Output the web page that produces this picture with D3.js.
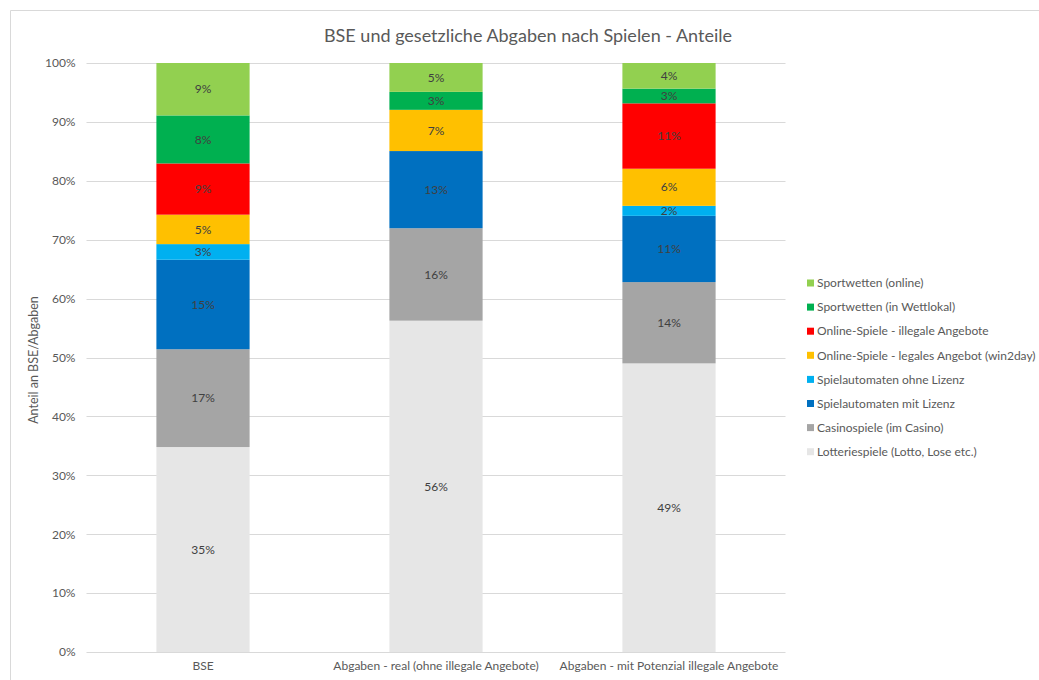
<!DOCTYPE html>
<html><head><meta charset="utf-8">
<script src="https://cdn.jsdelivr.net/npm/d3@7"></script>
<style>body{margin:0;background:#fff;} svg{display:block;font-family:Lato, "Open Sans", sans-serif;}</style>
</head><body>
<svg id="c" width="1039" height="680"></svg>
<script>
const categories = ["BSE", "Abgaben - real (ohne illegale Angebote)", "Abgaben - mit Potenzial illegale Angebote"];
const seriesNames = ["Lotteriespiele (Lotto, Lose etc.)", "Casinospiele (im Casino)", "Spielautomaten mit Lizenz", "Spielautomaten ohne Lizenz", "Online-Spiele - legales Angebot (win2day)", "Online-Spiele - illegale Angebote", "Sportwetten (in Wettlokal)", "Sportwetten (online)"];
const seriesColors = ["#E6E6E6", "#A5A5A5", "#0070C0", "#00B0F0", "#FFC000", "#FF0000", "#00B050", "#92D050"];
const lotterie = [34.8, 56.25, 49.0];
const casino = [16.6, 15.7, 13.8];
const automatenMit = [15.2, 13.1, 11.25];
const automatenOhne = [2.65, 0, 1.7];
const onlineLegal = [5.0, 7.0, 6.3];
const onlineIllegal = [8.7, 0, 11.1];
const wettlokal = [8.15, 3.05, 2.5];
const wettenOnline = [8.9, 4.9, 4.35];
const yTicks = [0, 0.1, 0.2, 0.3, 0.4, 0.5, 0.6, 0.7, 0.8, 0.9, 1.0];
const title = "BSE und gesetzliche Abgaben nach Spielen - Anteile";
const yTitle = "Anteil an BSE/Abgaben";

const seriesValues = [lotterie, casino, automatenMit, automatenOhne, onlineLegal, onlineIllegal, wettlokal, wettenOnline];
const rows = categories.map((c, i) => {
  const r = {cat: c};
  seriesNames.forEach((s, j) => r[s] = seriesValues[j][i] / 100);
  return r;
});
const stacked = d3.stack().keys(seriesNames)(rows);

const svg = d3.select("#c");
const txt = "#595959";
// chart frame
svg.append("path").attr("d", "M10.5,1000 V10.5 H1100").attr("fill", "none").attr("stroke", "#d9d9d9");

const x = d3.scaleBand().domain(categories).range([86.5, 785.5]).paddingInner(0.6).paddingOuter(0.3);
const y = d3.scaleLinear().domain([0, 1]).range([652, 63]);

// gridlines
svg.append("g").selectAll("line").data(yTicks).join("line")
  .attr("x1", 86.5).attr("x2", 785.5)
  .attr("y1", d => Math.round(y(d)) + 0.5).attr("y2", d => Math.round(y(d)) + 0.5)
  .attr("stroke", "#d9d9d9");

// y axis labels
const yAxis = d3.axisLeft(y).tickValues(yTicks).tickFormat(d3.format(".0%")).tickSize(0).tickPadding(11);
const ya = svg.append("g").attr("transform", "translate(86.5,0)").call(yAxis);
ya.select(".domain").remove();
ya.selectAll("text").attr("fill", txt).style("font-size", "12px").style("font-family", "Lato, sans-serif");

// x axis labels
const xAxis = d3.axisBottom(x).tickSize(0).tickPadding(9);
const xa = svg.append("g").attr("transform", "translate(0,652)").call(xAxis);
xa.select(".domain").remove();
xa.selectAll("text").attr("fill", txt).style("font-size", "12px").style("font-family", "Lato, sans-serif");

// bars
const layers = svg.append("g").selectAll("g").data(stacked).join("g")
  .attr("fill", (d, i) => seriesColors[i]);
layers.selectAll("rect").data(d => d.map(v => ({v, cat: v.data.cat}))).join("rect")
  .attr("x", d => x(d.cat)).attr("width", x.bandwidth())
  .attr("y", d => y(d.v[1])).attr("height", d => y(d.v[0]) - y(d.v[1]));

// data labels
layers.selectAll("text").data(d => d.filter(v => v[1] - v[0] > 0.001).map(v => ({v, cat: v.data.cat}))).join("text")
  .attr("x", d => x(d.cat) + x.bandwidth() / 2)
  .attr("y", d => (y(d.v[0]) + y(d.v[1])) / 2)
  .attr("dy", "0.35em").attr("text-anchor", "middle")
  .attr("fill", "#404040").style("font-size", "12px")
  .text(d => d3.format(".0%")(d.v[1] - d.v[0]));

// title
svg.append("text").attr("x", 528).attr("y", 42).attr("text-anchor", "middle")
  .attr("fill", txt).style("font-size", "18px").text(title);

// y title
svg.append("text").attr("transform", "translate(38,360) rotate(-90)").attr("text-anchor", "middle")
  .attr("fill", txt).style("font-size", "12.5px").text(yTitle);

// legend (reverse order)
const legendItems = seriesNames.map((s, i) => ({s, c: seriesColors[i]})).reverse();
const lg = svg.append("g").selectAll("g").data(legendItems).join("g")
  .attr("transform", (d, i) => `translate(807,${283 + i * 24.1})`);
lg.append("rect").attr("x", 0).attr("y", -3.5).attr("width", 7).attr("height", 7).attr("fill", d => d.c);
lg.append("text").attr("x", 10).attr("dy", "0.35em").attr("fill", txt).style("font-size", "12px").text(d => d.s);
</script>
</body></html>
